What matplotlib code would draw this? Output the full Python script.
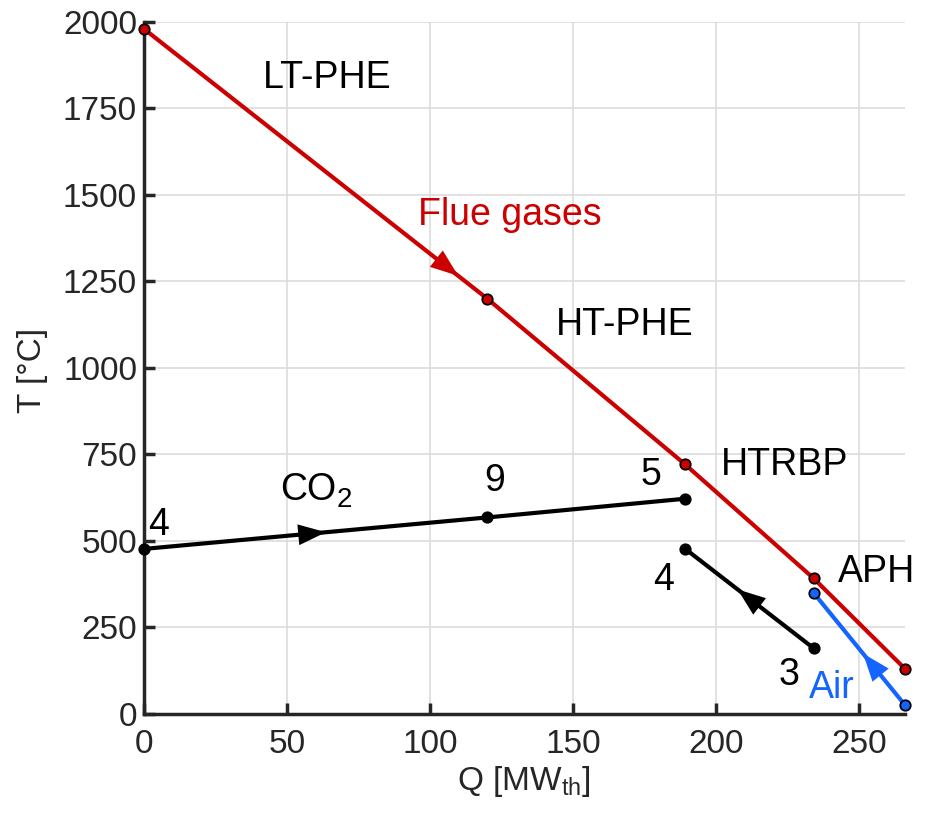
import matplotlib
matplotlib.use("Agg")
import matplotlib.pyplot as plt
import numpy as np

plt.rcParams['font.family'] = ['Liberation Sans', 'DejaVu Sans']
plt.rcParams['mathtext.fontset'] = 'custom'
plt.rcParams['mathtext.rm'] = 'Liberation Sans'
plt.rcParams['mathtext.it'] = 'Liberation Sans'

# data
flue_Q = [0, 120, 189, 234, 266]
flue_T = [1980, 1200, 722, 392, 130]
co2_hot_Q = [0, 120, 189]
co2_hot_T = [477, 568, 622]
co2_cold_Q = [189, 234]
co2_cold_T = [478, 190]
air_Q = [234, 266]
air_T = [350, 25]

xticks = [0, 50, 100, 150, 200, 250]
yticks = [0, 250, 500, 750, 1000, 1250, 1500, 1750, 2000]

RED = '#CC0000'
BLACK = '#000000'
BLUE = '#1464FF'
AXC = '#262626'

fig = plt.figure(figsize=(9.26, 8.15), dpi=100)
ax = fig.add_axes([0.1555, 0.124, 0.822, 0.849])

def draw(Q, T, color, lw=3.0):
    ax.plot(Q, T, color=color, lw=lw, zorder=3, solid_capstyle='butt',
            clip_on=False)
    ax.plot(Q, T, ls='none', marker='o', ms=7.5, mfc=color, mec='black',
            mew=1.3, zorder=4, clip_on=False)

def arrow(Q, T, seg, frac, color, length=0.05):
    x0, x1 = Q[seg], Q[seg + 1]
    y0, y1 = T[seg], T[seg + 1]
    tx = x0 + frac * (x1 - x0)
    ty = y0 + frac * (y1 - y0)
    bx = x0 + (frac - length) * (x1 - x0)
    by = y0 + (frac - length) * (y1 - y0)
    ax.annotate('', xy=(tx, ty), xytext=(bx, by),
                arrowprops=dict(arrowstyle='-|>,head_length=2.0,head_width=0.75',
                                color=color, lw=0, shrinkA=0, shrinkB=0),
                zorder=5)

draw(flue_Q, flue_T, RED)
draw(co2_hot_Q, co2_hot_T, BLACK)
draw(co2_cold_Q, co2_cold_T, BLACK)
draw(air_Q, air_T, BLUE)

arrow(flue_Q, flue_T, 0, 0.915, RED, 0.01)
arrow(co2_hot_Q, co2_hot_T, 0, 0.53, BLACK, 0.01)
arrow(co2_cold_Q[::-1], co2_cold_T[::-1], 0, 0.59, BLACK, 0.02)
arrow(air_Q[::-1], air_T[::-1], 0, 0.46, BLUE, 0.03)

fs = 27
ax.text(64, 1838, 'LT-PHE', fontsize=fs, ha='center', va='center', color='black')
ax.text(128, 1442, 'Flue gases', fontsize=fs, ha='center', va='center', color=RED)
ax.text(168, 1124, 'HT-PHE', fontsize=fs, ha='center', va='center', color='black')
ax.text(224, 720, 'HTRBP', fontsize=fs, ha='center', va='center', color='black')
ax.text(256, 410, 'APH', fontsize=fs, ha='center', va='center', color='black')
ax.text(57.5, 647, 'CO', fontsize=fs, ha='center', va='center', color='black')
ax.text(70.0, 617, '2', fontsize=20, ha='center', va='center', color='black')
ax.text(122.5, 672, '9', fontsize=fs, ha='center', va='center', color='black')
ax.text(177, 690, '5', fontsize=fs, ha='center', va='center', color='black')
ax.text(5, 545, '4', fontsize=fs, ha='center', va='center', color='black')
ax.text(181.5, 387, '4', fontsize=fs, ha='center', va='center', color='black')
ax.text(225.5, 113, '3', fontsize=fs, ha='center', va='center', color='black')
ax.text(240.5, 75, 'Air', fontsize=fs, ha='center', va='center', color=BLUE)

ax.set_xlim(0, 266)
ax.set_ylim(0, 2000)
ax.set_xticks(xticks)
ax.set_yticks(yticks)
ax.tick_params(direction='in', length=8, width=2.5, colors=AXC, labelsize=24,
               labelcolor=AXC)
ax.tick_params(axis='y', pad=5)
ax.tick_params(axis='x', pad=11)
for s in ['top', 'right']:
    ax.spines[s].set_visible(False)
for s in ['left', 'bottom']:
    ax.spines[s].set_linewidth(2.5)
    ax.spines[s].set_color(AXC)
ax.grid(True, color='#DCDCDC', lw=1.2, zorder=0)
ax.set_axisbelow(True)

ax.set_xlabel(r'Q [MW$_{\mathrm{th}}$]', fontsize=24, color=AXC)
ax.set_ylabel('T [°C]', fontsize=24, color=AXC)
ax.xaxis.set_label_coords(0.4995, -0.072)
ax.yaxis.set_label_coords(-0.146, 0.497)
ax.xaxis.label.set_va('top')
ax.yaxis.label.set_va('center')

fig.savefig('out.png', dpi=100)
